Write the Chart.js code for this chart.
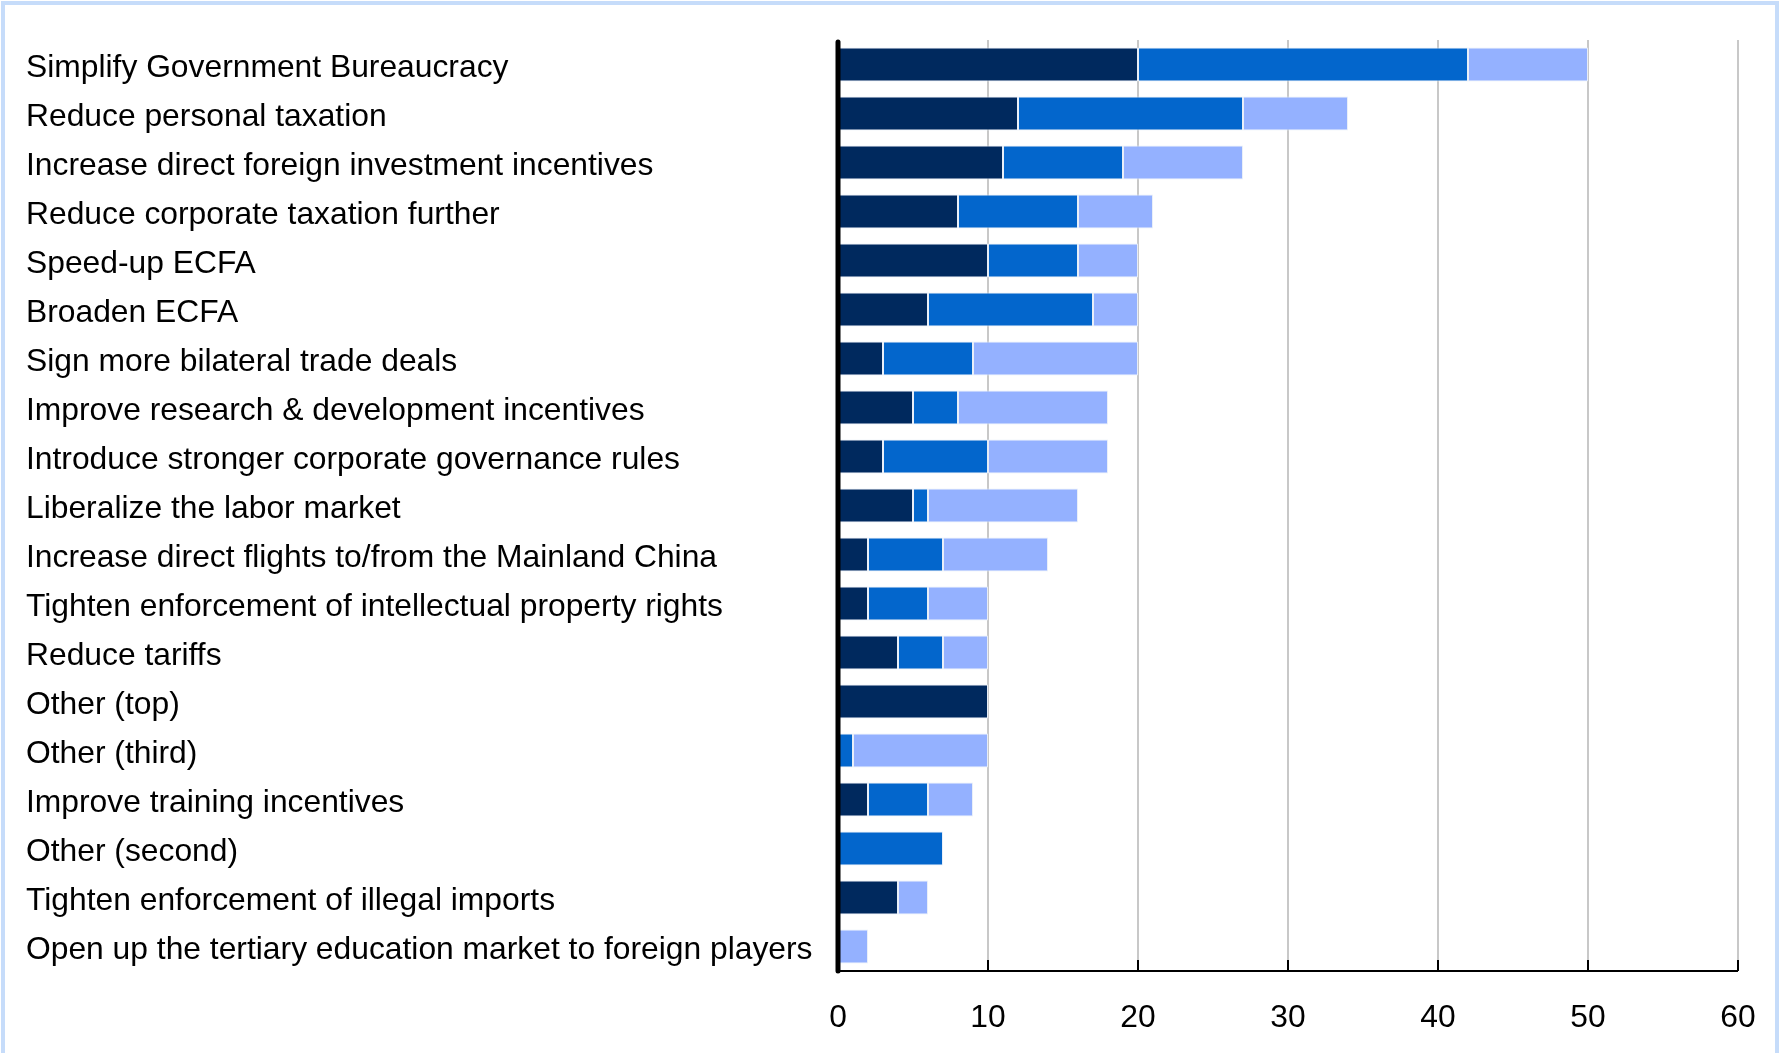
<!DOCTYPE html>
<html>
<head>
<meta charset="utf-8">
<script src="https://cdn.jsdelivr.net/npm/chart.js@4/dist/chart.umd.min.js"></script>
<style>
  html, body { margin: 0; padding: 0; background: #fff; overflow: hidden; }
  #wrap { position: relative; width: 1779px; height: 1053px; overflow: hidden; }
  #reforms { display: block; width: 1779px; height: 1053px; }
  #frame {
    position: absolute; left: 1px; top: 1px; width: 1770px; height: 1048px;
    border: 4px solid #c6dcfa; border-bottom: none; pointer-events: none;
  }
</style>
</head>
<body>
<div id="wrap">
  <canvas id="reforms" width="1779" height="1053"></canvas>
  <div id="frame"></div>
</div>
<script>
(function(){
    const categories = [
        'Simplify Government Bureaucracy',
        'Reduce personal taxation',
        'Increase direct foreign investment incentives',
        'Reduce corporate taxation further',
        'Speed-up ECFA',
        'Broaden ECFA',
        'Sign more bilateral trade deals',
        'Improve research & development incentives',
        'Introduce stronger corporate governance rules',
        'Liberalize the labor market',
        'Increase direct flights to/from the Mainland China',
        'Tighten enforcement of intellectual property rights',
        'Reduce tariffs',
        'Other (top)',
        'Other (third)',
        'Improve training incentives',
        'Other (second)',
        'Tighten enforcement of illegal imports',
        'Open up the tertiary education market to foreign players'
    ];

    const topPriority    = [20, 12, 11, 8, 10, 6, 3, 5, 3, 5, 2, 2, 4, 10, 0, 2, 0, 4, 0];
    const secondPriority = [22, 15, 8, 8, 6, 11, 6, 3, 7, 1, 5, 4, 3, 0, 1, 4, 7, 0, 0];
    const thirdPriority  = [8, 7, 8, 5, 4, 3, 11, 10, 8, 10, 7, 4, 3, 0, 9, 3, 0, 2, 2];

    const xTicks = [0, 10, 20, 30, 40, 50, 60];

    const font = { family: '"Liberation Sans", Arial, sans-serif', size: 31.8 };

    function series(label, data, color) {
        return {
            label: label,
            data: data,
            backgroundColor: color,
            borderColor: 'rgba(232, 238, 248, 0.95)',
            borderWidth: 1,
            borderSkipped: false,
            barPercentage: 0.69,
            categoryPercentage: 1
        };
    }

    // heavy y axis with round cap, thin x axis with inward ticks
    const axisLines = {
        id: 'axisLines',
        afterDatasetsDraw(chart) {
            const ctx = chart.ctx;
            const x = chart.scales.x;
            const area = chart.chartArea;
            const x0 = x.getPixelForValue(0);
            ctx.save();
            ctx.strokeStyle = '#000';
            ctx.lineWidth = 2;
            ctx.beginPath();
            ctx.moveTo(x0, area.bottom);
            ctx.lineTo(x.getPixelForValue(xTicks[xTicks.length - 1]), area.bottom);
            xTicks.slice(1).forEach(function(v){
                const px = x.getPixelForValue(v);
                ctx.moveTo(px, area.bottom);
                ctx.lineTo(px, area.bottom - 11);
            });
            ctx.stroke();
            ctx.lineWidth = 5;
            ctx.lineCap = 'round';
            ctx.beginPath();
            ctx.moveTo(x0, area.top + 2);
            ctx.lineTo(x0, area.bottom);
            ctx.stroke();
            ctx.restore();
        }
    };

    // category names, left aligned and sitting a little below the bar centre
    const categoryLabels = {
        id: 'categoryLabels',
        afterDraw(chart) {
            const ctx = chart.ctx;
            const y = chart.scales.y;
            ctx.save();
            ctx.fillStyle = '#000';
            ctx.font = font.size + 'px ' + font.family;
            ctx.textAlign = 'left';
            ctx.textBaseline = 'middle';
            categories.forEach(function(name, i){
                ctx.fillText(name, y.left, y.getPixelForValue(i) + 4);
            });
            ctx.restore();
        }
    };

    new Chart(document.getElementById('reforms'), {
        type: 'bar',
        data: {
            labels: categories,
            datasets: [
                series('Top priority', topPriority, '#00295e'),
                series('Second priority', secondPriority, '#0366cc'),
                series('Third priority', thirdPriority, '#94b1ff')
            ]
        },
        options: {
            indexAxis: 'y',
            responsive: false,
            animation: false,
            layout: { padding: { left: 26, right: 41, top: 40, bottom: 0 } },
            plugins: {
                legend: { display: false },
                tooltip: { enabled: false }
            },
            scales: {
                x: {
                    stacked: true,
                    min: 0,
                    max: 60,
                    border: { display: false },
                    grid: {
                        color: function(c){ return c.tick && c.tick.value === 0 ? 'rgba(0,0,0,0)' : '#c8c8c8'; },
                        lineWidth: 2,
                        drawTicks: false
                    },
                    ticks: {
                        stepSize: 10,
                        color: '#000',
                        font: font,
                        padding: 28,
                        maxRotation: 0
                    },
                    afterFit(scale) {
                        scale.height = 82;
                        // end labels may hang over the plot edges
                        scale.paddingLeft = 0;
                        scale.paddingRight = 0;
                    }
                },
                y: {
                    stacked: true,
                    border: { display: false },
                    grid: { display: false },
                    ticks: { display: false },
                    afterFit(scale) { scale.width = 812; }
                }
            }
        },
        plugins: [axisLines, categoryLabels]
    });
})();
</script>
</body>
</html>
